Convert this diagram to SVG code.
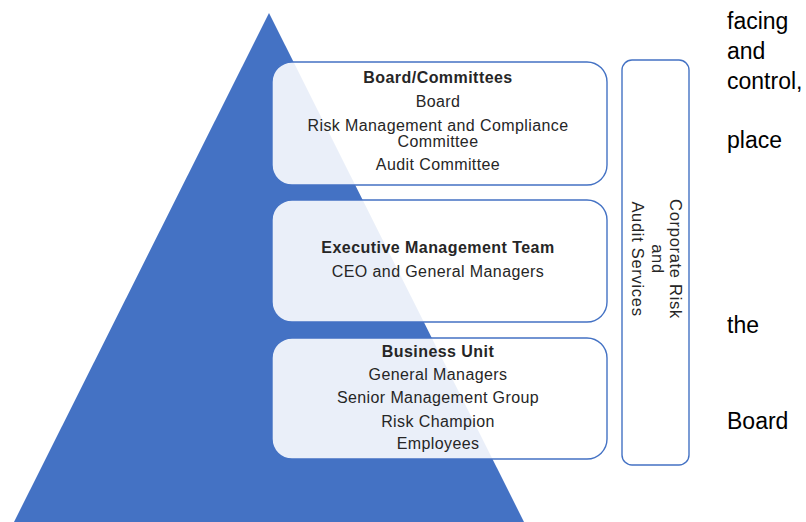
<svg xmlns="http://www.w3.org/2000/svg" width="806" height="522" viewBox="0 0 806 522">
<style>
.box{fill:#ffffff;fill-opacity:0.89;stroke:#4472C4;stroke-width:1.4}
.t{font-family:"Liberation Sans",Arial,sans-serif;font-size:16px;letter-spacing:0.4px;fill:#262626;text-anchor:middle}
.b{font-weight:bold;letter-spacing:0.45px}
.side{font-family:"Liberation Sans",Arial,sans-serif;font-size:23px;fill:#000}
.v{font-family:"Liberation Sans",Arial,sans-serif;font-size:16.5px;letter-spacing:0.7px;fill:#262626;text-anchor:middle}
</style>
<rect width="806" height="522" fill="#ffffff"/>
<polygon id="pyramid" points="269,13 14,522 524,522" fill="#4472C4"/>
<g id="board-committees">
<rect class="box" x="272" y="62" width="335" height="123" rx="20"/>
<text class="t b" x="438" y="83">Board/Committees</text>
<text class="t" x="438" y="107">Board</text>
<text class="t" x="438" y="131">Risk Management and Compliance</text>
<text class="t" x="438" y="147">Committee</text>
<text class="t" x="438" y="170">Audit Committee</text>
</g>
<g id="executive-team">
<rect class="box" x="272" y="200" width="335" height="122" rx="20"/>
<text class="t b" x="438" y="253">Executive Management Team</text>
<text class="t" x="438" y="277">CEO and General Managers</text>
</g>
<g id="business-unit">
<rect class="box" x="272" y="338" width="335" height="121" rx="20"/>
<text class="t b" x="438" y="357">Business Unit</text>
<text class="t" x="438" y="380">General Managers</text>
<text class="t" x="438" y="403">Senior Management Group</text>
<text class="t" x="438" y="427">Risk Champion</text>
<text class="t" x="438" y="449">Employees</text>
</g>
<g id="corporate-risk">
<rect x="622" y="60" width="67" height="405" rx="10" fill="#ffffff" stroke="#4472C4" stroke-width="1.4"/>
<g transform="translate(655,259) rotate(90)">
<text class="v" x="0" y="-15">Corporate Risk</text>
<text class="v" x="0" y="3.5">and</text>
<text class="v" x="0" y="23">Audit Services</text>
</g>
</g>
<g id="side-text">
<text class="side" x="727" y="29">facing</text>
<text class="side" x="727" y="59">and</text>
<text class="side" x="727" y="89">control,</text>
<text class="side" x="727" y="148">place</text>
<text class="side" x="727" y="333">the</text>
<text class="side" x="727" y="429">Board</text>
</g>
</svg>
